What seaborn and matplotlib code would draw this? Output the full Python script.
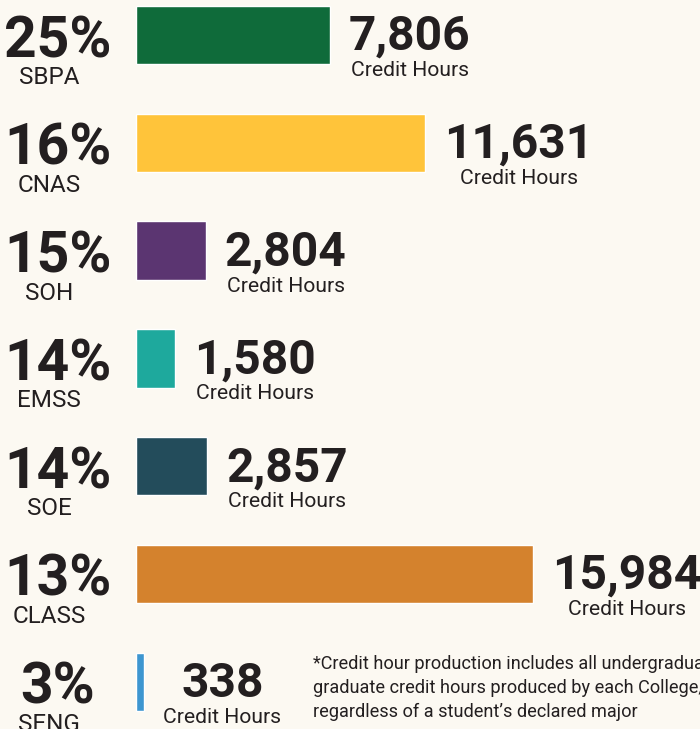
import matplotlib
matplotlib.use("Agg")
import matplotlib.pyplot as plt
import matplotlib.transforms as mtransforms
import numpy as np
import pandas as pd
import seaborn as sns

colleges = ["SBPA", "CNAS", "SOH", "EMSS", "SOE", "CLASS", "SENG"]
shares = ["25%", "16%", "15%", "14%", "14%", "13%", "3%"]
credit_hours = [7806, 11631, 2804, 1580, 2857, 15984, 338]
bar_colors = ["#0f6b3a", "#ffc43a", "#5b3571", "#1ea99d", "#234c5b", "#d4822d", "#3d96d0"]
footnote = ("*Credit hour production includes all undergraduate and\n"
            "graduate credit hours produced by each College/School\n"
            "regardless of a student\u2019s declared major")

bg = "#fcf9f2"
ink = "#231f20"
font = ["Roboto", "DejaVu Sans"]

df = pd.DataFrame({"college": colleges, "hours": credit_hours, "share": shares})

sns.set_style("white")
fig = plt.figure(figsize=(7, 7.29), dpi=100, facecolor=bg)
ax = fig.add_axes([0, 0, 1, 1])
ax.set_facecolor(bg)

sns.barplot(data=df, x="hours", y="college", hue="college", palette=bar_colors,
            legend=False, orient="h", width=0.54, saturation=1, ax=ax)

# pixel mapping: bars start at x=136px, 15,984 hours ~ 397px; rows 107.8px apart
px_per_hour = 397 / 15984
ax.set_xlim(-136 / px_per_hour, 564 / px_per_hour)
row = 107.8
ax.set_ylim((729 - 35) / row, -35 / row)
ax.axis("off")

tr = mtransforms.blended_transform_factory(fig.transFigure, ax.transData)
pt = 72 / 100  # points per pixel

def shift(dy_px):
    return mtransforms.offset_copy(tr, fig=fig, x=0, y=-dy_px * pt, units="points")

fig.canvas.draw()
renderer = fig.canvas.get_renderer()

for i, r in df.iterrows():
    ax.text(58 / 700, i, r["share"], transform=shift(22), ha="center", va="baseline",
            fontsize=41, fontweight="bold", family=font, color=ink)
    ax.text(49 / 700, i, r["college"], transform=shift(49), ha="center", va="baseline",
            fontsize=17.5, family=font, color=ink)

    end_px = 136 + r["hours"] * px_per_hour
    num = ax.text(0, i, f"{r['hours']:,}", transform=shift(15), ha="center", va="baseline",
                  fontsize=34.5, fontweight="bold", family=font, color=ink)
    lab = ax.text(0, i, "Credit Hours", transform=shift(41), ha="center", va="baseline",
                  fontsize=15.2, family=font, color=ink)
    w = max(num.get_window_extent(renderer).width, lab.get_window_extent(renderer).width)
    cx = (end_px + 19 + w / 2) / 700
    num.set_x(cx)
    lab.set_x(cx)

fig.text(313 / 700, 1 - 655 / 729, footnote, ha="left", va="top", fontsize=13.1,
         family=font, color=ink, linespacing=1.43)

fig.savefig("out.png", dpi=100, facecolor=bg)
